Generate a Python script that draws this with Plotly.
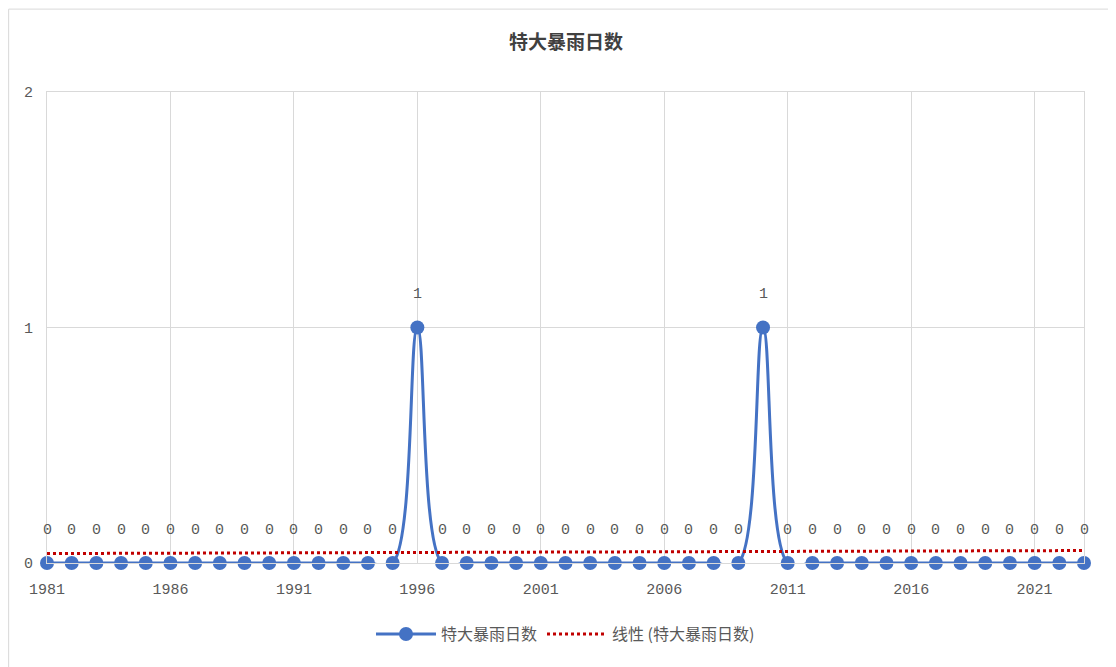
import numpy as np
import plotly.graph_objects as go

years = list(range(1981, 2024))
days = [0] * len(years)
days[years.index(1996)] = 1
days[years.index(2010)] = 1

series_name = "特大暴雨日数"
trend_name = "线性 (特大暴雨日数)"
tick_years = [1981, 1986, 1991, 1996, 2001, 2006, 2011, 2016, 2021]

# linear trend like Excel's trendline (x = category index)
idx = np.arange(1, len(years) + 1)
k, b = np.polyfit(idx, days, 1)
trend = k * idx + b

font = "Noto Sans CJK SC, DejaVu Sans, sans-serif"
num_font = "Liberation Mono, DejaVu Sans Mono, monospace"
grey = "#595959"

fig = go.Figure()
fig.add_trace(go.Scatter(
    x=years, y=days, name=series_name, mode="lines+markers",
    line=dict(color="#4472C4", width=3, shape="spline", smoothing=1),
    marker=dict(size=14, color="#4472C4"), cliponaxis=False,
))
fig.add_trace(go.Scatter(
    x=years, y=trend, name=trend_name, mode="lines",
    line=dict(color="#C00000", width=3, dash="dot"), cliponaxis=False,
))

for yr, v in zip(years, days):
    fig.add_annotation(x=yr, y=v, text=str(v), showarrow=False, yshift=33,
                       font=dict(size=15, color=grey, family=num_font))

fig.update_layout(
    width=1116, height=667,
    paper_bgcolor="white", plot_bgcolor="white",
    margin=dict(l=39, r=40, t=84, b=112),
    title=dict(text="<b>特大暴雨日数</b>", x=0.5, y=0.949, xanchor="center",
               yanchor="middle",
               font=dict(size=19, color="#404040", family=font)),
    font=dict(family=font, color=grey, size=13),
    showlegend=True,
    legend=dict(orientation="h", x=0.5, xanchor="center", y=-0.115, yanchor="top",
                font=dict(size=16, color=grey), itemwidth=60),
    shapes=[dict(type="rect", xref="paper", yref="paper", x0=-0.037, x1=1.029,
                 y0=-0.236, y1=1.176, line=dict(color="#D9D9D9", width=1))],
)
fig.update_xaxes(
    range=[1981, 2023], tickvals=tick_years, ticktext=[str(t) for t in tick_years],
    showgrid=True, gridcolor="#D9D9D9", zeroline=False,
    showline=True, linecolor="#D9D9D9", mirror=True, ticks="",
    ticklabelstandoff=12, automargin=False,
    tickfont=dict(size=15, color=grey, family=num_font),
)
fig.update_yaxes(
    range=[0, 2], tickvals=[0, 1, 2], showgrid=True, gridcolor="#D9D9D9",
    zeroline=False, showline=True, linecolor="#D9D9D9", mirror=True,
    ticks="", ticklabelstandoff=10, automargin=False,
    tickfont=dict(size=15, color=grey, family=num_font),
)

fig.write_html("out.html")
